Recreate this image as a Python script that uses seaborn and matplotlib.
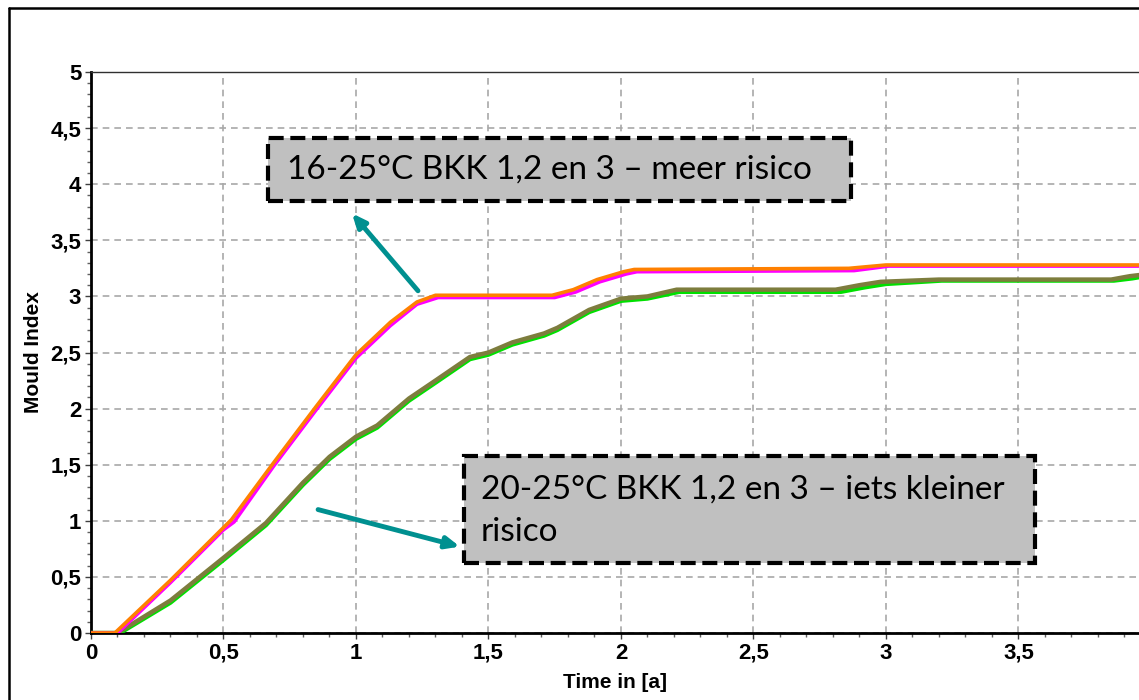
import matplotlib
matplotlib.use("Agg")
import matplotlib.pyplot as plt
import seaborn as sns
from matplotlib.patches import Rectangle
from matplotlib.lines import Line2D
from matplotlib.ticker import MultipleLocator, FixedLocator

# ---- data ----
orange_x = [0, 0.09, 0.30, 0.50, 0.53, 0.69, 0.85, 1.00, 1.13, 1.23, 1.30, 1.74, 1.82, 1.91, 2.01, 2.05, 2.86, 3.00, 3.955]
orange_y = [0, 0, 0.47, 0.94, 1.01, 1.52, 2.02, 2.48, 2.77, 2.95, 3.01, 3.01, 3.06, 3.15, 3.22, 3.24, 3.25, 3.28, 3.28]
magenta_x = [0, 0.10, 0.30, 0.50, 0.54, 0.69, 0.85, 1.00, 1.13, 1.23, 1.31, 1.75, 1.83, 1.92, 2.02, 2.06, 2.88, 3.01, 3.955]
magenta_y = [0, 0, 0.45, 0.92, 0.99, 1.49, 1.99, 2.45, 2.74, 2.93, 2.99, 2.99, 3.04, 3.13, 3.20, 3.22, 3.23, 3.27, 3.27]
olive_x = [0, 0.10, 0.30, 0.50, 0.66, 0.80, 0.90, 1.00, 1.08, 1.20, 1.30, 1.43, 1.50, 1.59, 1.71, 1.76, 1.88, 2.00, 2.10, 2.21, 2.81, 2.90, 2.98, 3.20, 3.85, 3.92, 3.955]
olive_y = [0, 0, 0.29, 0.67, 0.98, 1.34, 1.57, 1.75, 1.85, 2.09, 2.25, 2.46, 2.50, 2.59, 2.67, 2.72, 2.88, 2.98, 3.00, 3.06, 3.06, 3.10, 3.13, 3.15, 3.15, 3.18, 3.19]
green_x = [0, 0.11, 0.30, 0.50, 0.66, 0.80, 0.90, 1.00, 1.08, 1.20, 1.30, 1.43, 1.50, 1.59, 1.71, 1.76, 1.88, 2.00, 2.10, 2.22, 2.83, 2.92, 3.00, 3.21, 3.86, 3.93, 3.955]
green_y = [0, 0, 0.27, 0.65, 0.96, 1.32, 1.55, 1.73, 1.83, 2.07, 2.23, 2.44, 2.48, 2.57, 2.65, 2.70, 2.86, 2.96, 2.98, 3.04, 3.04, 3.08, 3.11, 3.14, 3.14, 3.16, 3.17]

x_ticks = [0, 0.5, 1, 1.5, 2, 2.5, 3, 3.5]
x_tick_labels = ["0", "0,5", "1", "1,5", "2", "2,5", "3", "3,5"]
y_ticks = [0, 0.5, 1, 1.5, 2, 2.5, 3, 3.5, 4, 4.5, 5]
y_tick_labels = ["0", "0,5", "1", "1,5", "2", "2,5", "3", "3,5", "4", "4,5", "5"]

label1 = "16-25°C BKK 1,2 en 3 – meer risico"
label2 = "20-25°C BKK 1,2 en 3 – iets kleiner\nrisico"

# ---- style ----
sns.set_style("white")
plt.rcParams['font.family'] = ['Liberation Sans', 'DejaVu Sans']
plt.rcParams['text.color'] = 'black'
plt.rcParams['axes.labelcolor'] = 'black'
plt.rcParams['xtick.color'] = 'black'
plt.rcParams['ytick.color'] = 'black'

W, H = 1139, 700
fig = plt.figure(figsize=(W / 100, H / 100), dpi=100)
ax = fig.add_axes([91 / W, 67 / H, 1 - 91 / W, (633 - 72) / H])

sns.lineplot(x=green_x, y=green_y, ax=ax, color="#00e000", lw=3, zorder=3)
sns.lineplot(x=olive_x, y=olive_y, ax=ax, color="#7d7d3d", lw=3.2, zorder=4)
sns.lineplot(x=magenta_x, y=magenta_y, ax=ax, color="#ff00ff", lw=2.6, zorder=5)
sns.lineplot(x=orange_x, y=orange_y, ax=ax, color="#ff8000", lw=2.6, zorder=6)

ax.set_xlim(0, 3.955)
ax.set_ylim(0, 5)
ax.xaxis.set_major_locator(FixedLocator(x_ticks))
ax.set_xticklabels(x_tick_labels)
ax.yaxis.set_major_locator(FixedLocator(y_ticks))
ax.set_yticklabels(y_tick_labels)
ax.xaxis.set_minor_locator(MultipleLocator(0.1))
ax.yaxis.set_minor_locator(MultipleLocator(0.1))
ax.tick_params(axis="both", which="major", direction="out", length=4, width=1,
               color="#404040", labelcolor="black", labelsize=16, pad=3)
ax.tick_params(axis="both", which="minor", direction="out", length=3, width=1,
               color="#606060")
ax.tick_params(axis="both", which="both", bottom=True, left=True)
for lab in ax.get_xticklabels() + ax.get_yticklabels():
    lab.set_fontweight("bold")

ax.grid(True, which="major", linestyle=(0, (4, 3)), color="#a8a8a8", lw=1.2)
ax.set_axisbelow(True)

for side in ["left", "bottom"]:
    ax.spines[side].set_color("black")
    ax.spines[side].set_linewidth(2)
ax.spines["top"].set_color("#303030")
ax.spines["top"].set_linewidth(1)
ax.spines["right"].set_visible(False)

ax.set_xlabel("Time in [a]", fontsize=15, fontweight="bold", labelpad=7, color="black")
ax.set_ylabel("Mould Index", fontsize=15, fontweight="bold", labelpad=5, color="black")

# ---- annotation boxes ----
box_kw = dict(facecolor="#c0c0c0", edgecolor="black", lw=3, linestyle=(0, (3.6, 1.6)),
              zorder=8, clip_on=False)
ax.add_patch(Rectangle((0.668, 3.85), 2.868 - 0.668, 4.41 - 3.85, **box_kw))
ax.add_patch(Rectangle((1.408, 0.624), 3.562 - 1.408, 1.578 - 0.624, **box_kw))
ax.text(0.74, 4.13, label1, fontsize=24, family=["Lato", "DejaVu Sans"],
        va="center", ha="left", zorder=9)
ax.text(1.47, 1.09, label2, fontsize=24, family=["Lato", "DejaVu Sans"],
        va="center", ha="left", zorder=9, linespacing=1.5)

# ---- arrows ----
arrow_kw = dict(arrowstyle="-|>,head_length=0.8,head_width=0.35", color="#009090",
                lw=3.5, shrinkA=0, shrinkB=0)
ax.annotate("", xy=(0.985, 3.74), xytext=(1.234, 3.05), arrowprops=arrow_kw, zorder=7)
ax.annotate("", xy=(1.392, 0.77), xytext=(0.857, 1.10), arrowprops=arrow_kw, zorder=7)

# ---- outer frame ----
fig.add_artist(Line2D([9 / W, 1], [1 - 8 / H, 1 - 8 / H], color="black", lw=1.8,
                      transform=fig.transFigure))
fig.add_artist(Line2D([9 / W, 9 / W], [0, 1 - 8 / H], color="black", lw=1.8,
                      transform=fig.transFigure))

fig.savefig("out.png", dpi=100)
